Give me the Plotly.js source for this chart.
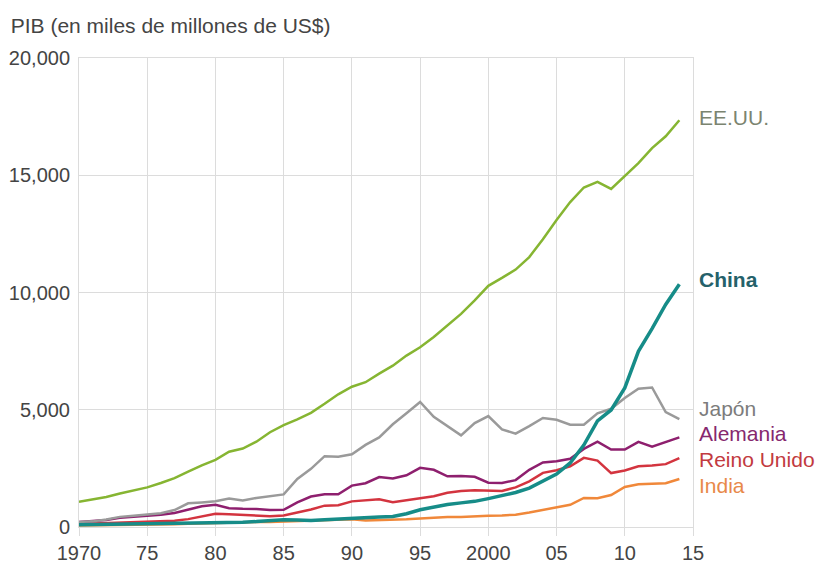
<!DOCTYPE html>
<html>
<head>
<meta charset="utf-8">
<script src="https://cdn.plot.ly/plotly-3.0.1.min.js"></script>
<style>html,body{margin:0;padding:0;background:#fff;}#chart{width:824px;height:565px;}</style>
</head>
<body>
<div id="chart"></div>
<script>
const years = [1970,1971,1972,1973,1974,1975,1976,1977,1978,1979,1980,1981,1982,1983,1984,1985,1986,1987,1988,1989,1990,1991,1992,1993,1994,1995,1996,1997,1998,1999,2000,2001,2002,2003,2004,2005,2006,2007,2008,2009,2010,2011,2012,2013,2014];

const usa = [1075,1167,1282,1429,1549,1689,1878,2086,2357,2632,2863,3211,3345,3638,4041,4347,4590,4870,5253,5658,5980,6174,6539,6879,7309,7664,8100,8609,9089,9661,10285,10622,10978,11511,12275,13094,13856,14478,14719,14419,14964,15518,16155,16663,17348];
const china = [92,100,114,139,144,163,154,175,150,178,191,196,205,231,260,310,301,273,312,348,361,383,427,445,564,734,864,962,1029,1094,1211,1339,1471,1660,1955,2257,2730,3494,4522,4990,5930,7492,8461,9490,10350];
const japan = [212,240,318,432,479,521,586,721,1010,1050,1100,1210,1130,1240,1310,1390,2050,2480,3020,3000,3100,3500,3820,4380,4850,5330,4700,4320,3910,4430,4730,4160,3980,4300,4650,4570,4360,4360,4850,5040,5500,5900,5950,4900,4600];
const germany = [216,249,300,398,446,490,520,601,740,882,950,800,776,770,725,732,1046,1298,1401,1398,1765,1868,2131,2071,2206,2522,2440,2160,2180,2140,1890,1880,2000,2440,2750,2800,2910,3330,3640,3300,3300,3630,3430,3630,3820];
const uk = [131,148,170,193,206,241,232,263,336,438,565,540,515,489,461,489,601,745,910,926,1093,1142,1179,1061,1140,1235,1314,1460,1535,1563,1550,1537,1690,1950,2310,2420,2590,2950,2830,2300,2410,2590,2620,2680,2940];
const india = [62,67,71,85,99,98,102,121,137,152,186,193,201,218,212,232,248,279,296,296,327,274,293,284,333,367,400,423,428,467,477,494,524,618,722,834,949,1239,1224,1365,1708,1823,1828,1863,2049];

const tickYears = [1970,1975,1980,1985,1990,1995,2000,2005,2010,2015];
const tickLabels = ['1970','75','80','85','90','95','2000','05','10','15'];
const yTicks = [0,5000,10000,15000,20000];
const yLabels = ['0','5,000','10,000','15,000','20,000'];

const seriesNames = ['India','Reino Unido','Alemania','Japón','EE.UU.','China'];
const seriesData = [india, uk, germany, japan, usa, china];
const lineColors = ['#f0883a','#d3343f','#8e1f6e','#9a9a9a','#86b532','#168c88'];
const lineWidths = [2.5,2.5,2.5,2.5,2.5,3.5];

const labelNames = ['EE.UU.','China','Japón','Alemania','Reino Unido','India'];
const labelColors = ['#7b8470','#25616a','#7c7c7c','#86286e','#c23a40','#e8894a'];
const labelPos = [0.874,0.528,0.253,0.200,0.144,0.089];
const labelBold = [false,true,false,false,false,false];

const FONT = 'Liberation Sans, Arial, Helvetica, sans-serif';

const traces = seriesNames.map((n,i)=>({
  x: years, y: seriesData[i], type:'scatter', mode:'lines', name:n,
  line:{color:lineColors[i], width:lineWidths[i]}, hoverinfo:'skip'
}));

const annotations = labelNames.map((t,i)=>({
  text: labelBold[i] ? '<b>'+t+'</b>' : t,
  xref:'paper', yref:'paper', x:1.006, y:labelPos[i],
  xanchor:'left', yanchor:'middle', showarrow:false,
  font:{family:FONT, size:21, color:labelColors[i]}
}));

const layout = {
  width:824, height:565,
  margin:{l:79, r:131, t:58, b:38},
  paper_bgcolor:'#fff', plot_bgcolor:'#fff',
  showlegend:false,
  title:{text:'PIB (en miles de millones de US$)', x:0.013, xanchor:'left', y:0.955, yanchor:'middle',
         font:{family:FONT, size:21, color:'#444'}},
  xaxis:{range:[1970,2015], tickvals:tickYears, ticktext:tickLabels,
         showgrid:true, gridcolor:'#dcdcdc', gridwidth:1,
         ticks:'outside', ticklen:8, tickcolor:'#dcdcdc', tickwidth:1,
         showline:true, mirror:true, linecolor:'#dcdcdc', linewidth:1,
         zeroline:false, fixedrange:true,
         tickfont:{family:FONT, size:20, color:'#444'}},
  yaxis:{range:[0,20000], tickvals:yTicks, ticktext:yLabels,
         showgrid:true, gridcolor:'#dcdcdc', gridwidth:1,
         ticks:'', showline:true, mirror:true, linecolor:'#dcdcdc', linewidth:1,
         zeroline:true, zerolinecolor:'#444', zerolinewidth:3,
         ticklabelstandoff:4, fixedrange:true,
         tickfont:{family:FONT, size:20, color:'#444'}},
  annotations: annotations
};

Plotly.newPlot('chart', traces, layout, {staticPlot:true, displayModeBar:false});
</script>
</body>
</html>
